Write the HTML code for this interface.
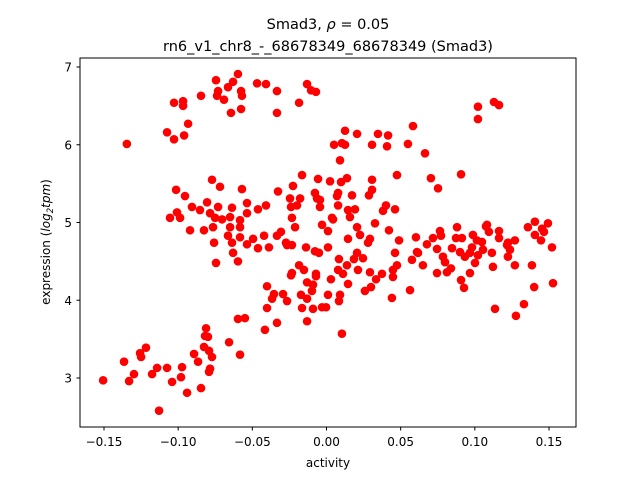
<!DOCTYPE html>
<html><head><meta charset="utf-8"><style>
html,body{margin:0;padding:0;background:#fff;}
svg{display:block;font-family:"DejaVu Sans","Liberation Sans",sans-serif;}
</style></head><body>
<svg id="chart" width="640" height="480" viewBox="0 0 640 480" xmlns="http://www.w3.org/2000/svg">
<rect x="0" y="0" width="640" height="480" fill="#fff"/>
<text x="328" y="29" text-anchor="middle" font-size="14.5">Smad3, <tspan font-style="italic">ρ</tspan> = 0.05</text>
<text x="328" y="51" text-anchor="middle" font-size="14.5">rn6_v1_chr8_-_68678349_68678349 (Smad3)</text>
<g id="points"></g>
<rect x="80" y="58" width="496" height="369" fill="none" stroke="#000" stroke-width="1"/>
<g id="xticks"></g>
<g id="yticks"></g>
<text x="328" y="467" text-anchor="middle" font-size="12">activity</text>
<text transform="translate(50,242) rotate(-90)" text-anchor="middle" font-size="12">expression (<tspan font-style="italic">log</tspan><tspan font-style="italic" font-size="8.5" dy="3">2</tspan><tspan font-style="italic" dy="-3">tpm</tspan>)</text>
</svg>
<script>
const xTickValues = [-0.15, -0.10, -0.05, 0.00, 0.05, 0.10, 0.15];
const xTickLabels = ["\u22120.15", "\u22120.10", "\u22120.05", "0.00", "0.05", "0.10", "0.15"];
const yTickValues = [3, 4, 5, 6, 7];
const yTickLabels = ["3", "4", "5", "6", "7"];
const activity = [
-0.0745,-0.0597,-0.063,-0.0664,-0.0731,-0.0738,-0.0691,-0.0576,-0.057,-0.0468,-0.0408,-0.0334,-0.0131,-0.0104,-0.0071,-0.0185,-0.0334,-0.0576,-0.0644,-0.0846,-0.1028,-0.0967,-0.0967,-0.0933,-0.1075,-0.1028,-0.096,-0.1346,
0.1021,0.1021,0.1129,0.1163,0.0583,0.0125,0.0206,0.0347,0.0415,0.0051,0.0104,0.0125,0.0307,0.0408,0.0549,0.0664,0.0091,0.0475,0.0704,0.0752,0.0907,0.0024,0.0098,0.0138,0.0307,0.0307,0.0286,0.0172,0.0078,0.0071,0.0078,0.0401,0.0381,0.0462,0.0145,0.0158,0.0192,0.0044,0.0327,0.0206,0.001,0.0421,0.0226,0.0145,0.0293,0.0489,0.0603,0.0765,0.0718,0.088,0.0987,0.1075,0.1095,0.1163,0.1163,0.127,0.1358,0.1405,0.1493,0.1453,0.1405,0.1466,
0.028,0.0462,0.0475,0.0448,0.061,0.0576,0.065,0.0677,0.0772,0.0745,0.0785,0.0799,0.0846,0.0873,0.0913,0.09,0.0933,0.0981,0.0967,0.1021,0.1001,0.1014,0.1048,0.1055,0.1082,0.1115,0.1217,0.1237,0.1223,0.127,0.152,0.1385,0.1122,0.0967,0.0839,0.0812,0.0745,
0.001,0.0084,0.0138,0.0078,0.0111,0.003,0.0145,0.001,0.0091,0.0084,-0.0003,0.0212,0.0293,0.0246,0.0206,0.0185,0.0448,0.0374,0.0334,0.03,0.0259,0.0441,0.0563,0.0617,0.0907,0.0927,0.1223,0.14,0.1527,0.1446,0.1136,0.1277,0.1331,0.0104,
-0.0758,-0.0745,-0.063,-0.0597,-0.0637,-0.0536,-0.0462,-0.0388,-0.0266,-0.0233,-0.0138,-0.0078,-0.0051,-0.0185,-0.0239,-0.0152,-0.0071,-0.0131,-0.0091,-0.0098,-0.0401,-0.0354,-0.0293,-0.0266,-0.0367,-0.0401,-0.0172,-0.0165,-0.0131,-0.0091,-0.003,-0.0131,-0.0334,-0.0415,-0.0597,-0.055,-0.0657,-0.0583,-0.0812,-0.0819,-0.0799,-0.0826,-0.0792,-0.0772,-0.0866,-0.0893,-0.0785,-0.0792,-0.0974,-0.0981,-0.1041,-0.1075,-0.1142,-0.1176,-0.1298,-0.1331,-0.1365,-0.1257,-0.125,-0.1217,-0.1506,-0.094,-0.0846,-0.1129,
-0.0772,-0.0718,-0.1014,-0.0954,-0.057,-0.0327,-0.0226,-0.0165,-0.0057,-0.0907,-0.0805,-0.0853,-0.0785,-0.0731,-0.1008,-0.1055,-0.0987,-0.0751,-0.0704,-0.0637,-0.065,-0.0583,-0.0536,-0.0536,-0.0462,-0.0408,-0.092,-0.0826,-0.0765,-0.065,-0.0583,-0.0664,-0.0583,-0.0495,-0.0421,-0.0334,-0.0307,-0.0273,-0.0246,-0.0178,-0.0239,-0.0199,-0.0233,-0.0212,-0.0064,-0.0044,-0.003,0.0037,-0.0233,-0.0071,-0.0078,-0.0044
];
const expression = [
6.83,6.91,6.81,6.74,6.69,6.63,6.58,6.69,6.63,6.79,6.78,6.69,6.78,6.70,6.68,6.54,6.41,6.46,6.41,6.63,6.54,6.56,6.50,6.27,6.16,6.07,6.12,6.01,
6.49,6.33,6.55,6.51,6.24,6.18,6.14,6.14,6.12,6.00,6.02,6.00,6.00,5.98,6.01,5.89,5.80,5.61,5.57,5.44,5.62,5.53,5.52,5.57,5.55,5.42,5.35,5.35,5.38,5.34,5.22,5.22,5.15,5.17,5.16,5.07,5.17,5.04,4.99,4.94,4.89,4.90,4.84,4.79,4.79,4.77,4.81,4.89,4.80,4.94,4.84,4.95,4.88,4.89,4.80,4.77,4.94,5.01,4.99,4.92,4.84,4.88,
4.74,4.61,4.45,4.39,4.62,4.52,4.45,4.72,4.83,4.66,4.56,4.49,4.67,4.80,4.80,4.62,4.56,4.68,4.61,4.58,4.48,4.77,4.75,4.65,4.97,4.61,4.71,4.65,4.56,4.45,4.68,4.45,4.43,4.35,4.41,4.36,4.35,
4.68,4.53,4.45,4.39,4.34,4.27,4.21,4.07,4.07,3.99,3.91,4.39,4.36,4.54,4.61,4.53,4.30,4.34,4.27,4.17,4.12,4.03,4.13,4.61,4.26,4.16,4.74,4.17,4.22,4.77,3.89,3.80,3.95,3.57,
4.74,4.48,4.61,4.50,4.74,4.72,4.67,4.68,4.71,4.71,4.68,4.63,4.61,4.45,4.32,4.39,4.31,4.23,4.20,4.12,4.18,4.08,4.08,3.99,4.02,3.90,4.07,3.90,4.02,3.89,3.91,3.73,3.71,3.62,3.76,3.77,3.46,3.30,3.64,3.54,3.53,3.40,3.35,3.27,3.21,3.31,3.12,3.08,3.14,3.01,2.95,3.13,3.13,3.05,3.05,2.96,3.21,3.32,3.27,3.39,2.97,2.81,2.87,2.58,
5.55,5.46,5.42,5.34,5.43,5.40,5.47,5.61,5.56,5.20,5.26,5.16,5.12,5.20,5.13,5.06,5.06,5.06,5.04,5.19,5.07,5.03,5.25,5.12,5.17,5.22,4.90,4.90,4.94,4.94,4.94,4.83,4.81,4.79,4.83,4.83,4.88,4.74,5.31,5.31,5.20,5.22,5.06,4.94,5.31,5.20,4.97,5.06,4.35,4.34,5.38,5.29
];
const NS = "http://www.w3.org/2000/svg";
const xScale = v => 326.5 + v * 1483.3;
const yScale = v => 378 - (v - 3) * 77.75;
const pts = document.getElementById("points");
for (let i = 0; i < activity.length; i++) {
  const c = document.createElementNS(NS, "circle");
  c.setAttribute("cx", xScale(activity[i]).toFixed(2));
  c.setAttribute("cy", yScale(expression[i]).toFixed(2));
  c.setAttribute("r", "4.3");
  c.setAttribute("fill", "#ff0000");
  
  
  pts.appendChild(c);
}
const xg = document.getElementById("xticks");
xTickValues.forEach((v, i) => {
  const x = xScale(v);
  const l = document.createElementNS(NS, "line");
  l.setAttribute("x1", x); l.setAttribute("x2", x);
  l.setAttribute("y1", 427); l.setAttribute("y2", 430.5);
  l.setAttribute("stroke", "#000");
  
  
  xg.appendChild(l);
  const t = document.createElementNS(NS, "text");
  t.setAttribute("x", x); t.setAttribute("y", 446);
  t.setAttribute("text-anchor", "middle");
  t.setAttribute("font-size", "12");
  t.textContent = xTickLabels[i];
  
  
  xg.appendChild(t);
});
const yg = document.getElementById("yticks");
yTickValues.forEach((v, i) => {
  const y = yScale(v);
  const l = document.createElementNS(NS, "line");
  l.setAttribute("x1", 76.5); l.setAttribute("x2", 80);
  l.setAttribute("y1", y); l.setAttribute("y2", y);
  l.setAttribute("stroke", "#000");
  
  
  yg.appendChild(l);
  const t = document.createElementNS(NS, "text");
  t.setAttribute("x", 72); t.setAttribute("y", y + 4.5);
  t.setAttribute("text-anchor", "end");
  t.setAttribute("font-size", "12");
  t.textContent = yTickLabels[i];
  
  
  yg.appendChild(t);
});
</script>
</body></html>
